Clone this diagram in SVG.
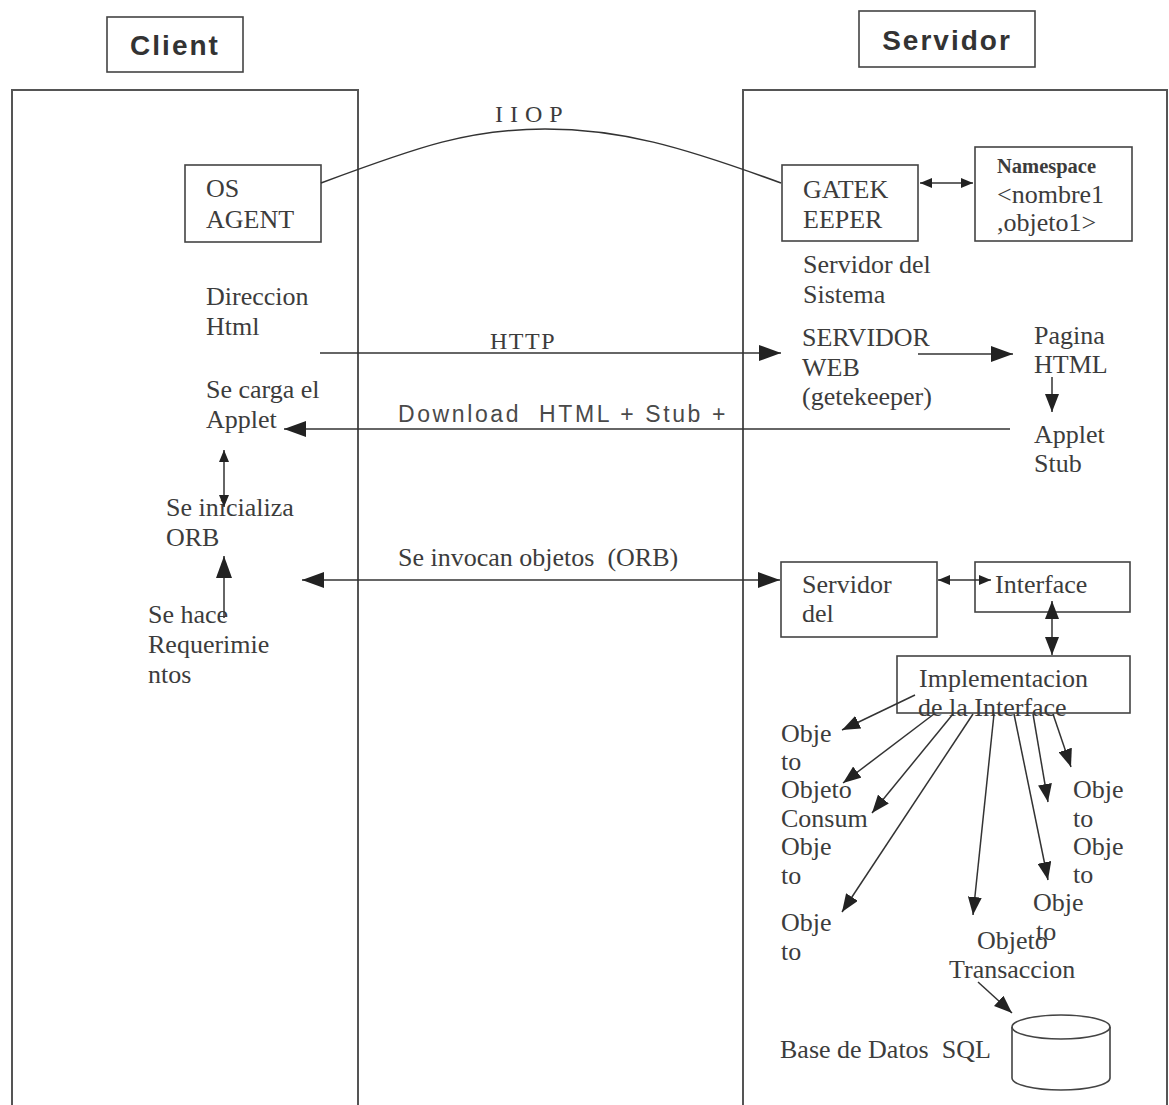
<svg xmlns="http://www.w3.org/2000/svg" width="1169" height="1105" viewBox="0 0 1169 1105">
  <style>
    text { white-space: pre; }
    .frame { fill: none; stroke: #555; stroke-width: 2; }
    .box { fill: none; stroke: #444; stroke-width: 1.6; }
    .ln { fill: none; stroke: #333; stroke-width: 1.5; }
    .t { font-family: "Liberation Serif", "Times New Roman", serif; font-size: 26px; fill: #3c3c3c; }
    .ts { font-family: "Liberation Sans", Arial, sans-serif; font-size: 23px; fill: #4a4a4a; letter-spacing: 2.6px; }
    .title { font-family: "Liberation Sans", Arial, sans-serif; font-size: 28px; font-weight: bold; fill: #333; }
  </style>
  <defs>
    <marker id="ah" markerUnits="userSpaceOnUse" markerWidth="22" markerHeight="16" refX="22" refY="8" orient="auto-start-reverse">
      <path d="M0,0 L22,8 L0,16 z" fill="#222"/>
    </marker>
    <marker id="am" markerUnits="userSpaceOnUse" markerWidth="18" markerHeight="14" refX="18" refY="7" orient="auto-start-reverse">
      <path d="M0,0 L18,7 L0,14 z" fill="#222"/>
    </marker>
    <marker id="as" markerUnits="userSpaceOnUse" markerWidth="12" markerHeight="10" refX="12" refY="5" orient="auto-start-reverse">
      <path d="M0,0 L12,5 L0,10 z" fill="#222"/>
    </marker>
  </defs>

  <rect width="1169" height="1105" fill="#fff"/>

  <!-- Column headings and panels -->
  <g id="client">
    <rect class="box" x="107" y="17" width="136" height="55"/>
    <text class="title" x="175" y="55" text-anchor="middle" style="letter-spacing:2px">Client</text>
    <rect class="frame" x="12" y="90" width="346" height="1040"/>
  </g>
  <g id="servidor">
    <rect class="box" x="859" y="11" width="176" height="56"/>
    <text class="title" x="947" y="50" text-anchor="middle" style="letter-spacing:2px">Servidor</text>
    <rect class="frame" x="743" y="90" width="424" height="1040"/>
  </g>

  <!-- Client side -->
  <g id="os-agent">
    <rect class="box" x="185" y="165" width="136" height="77"/>
    <text class="t" x="206" y="197">OS</text>
    <text class="t" x="206" y="228">AGENT</text>
  </g>
  <g id="direccion-html">
    <text class="t" x="206" y="305">Direccion</text>
    <text class="t" x="206" y="335">Html</text>
  </g>
  <g id="carga-applet">
    <text class="t" x="206" y="398">Se carga el</text>
    <text class="t" x="206" y="428">Applet</text>
  </g>
  <g id="inicializa-orb">
    <text class="t" x="166" y="516">Se inicializa</text>
    <text class="t" x="166" y="546">ORB</text>
  </g>
  <g id="requerimientos">
    <text class="t" x="148" y="623">Se hace</text>
    <text class="t" x="148" y="653">Requerimie</text>
    <text class="t" x="148" y="683">ntos</text>
  </g>

  <!-- Server side -->
  <g id="gatekeeper">
    <rect class="box" x="782" y="165" width="136" height="76"/>
    <text class="t" x="803" y="198">GATEK</text>
    <text class="t" x="803" y="228">EEPER</text>
  </g>
  <g id="namespace">
    <rect class="box" x="975" y="147" width="157" height="94"/>
    <text class="t" x="997" y="173" style="font-size:20.5px;font-weight:bold">Namespace</text>
    <text class="t" x="997" y="203">&lt;nombre1</text>
    <text class="t" x="997" y="231">,objeto1&gt;</text>
  </g>
  <g id="servidor-sistema">
    <text class="t" x="803" y="273">Servidor del</text>
    <text class="t" x="803" y="303">Sistema</text>
  </g>
  <g id="servidor-web">
    <text class="t" x="802" y="346">SERVIDOR</text>
    <text class="t" x="802" y="376">WEB</text>
    <text class="t" x="802" y="405">(getekeeper)</text>
  </g>
  <g id="pagina-html">
    <text class="t" x="1034" y="344">Pagina</text>
    <text class="t" x="1034" y="373">HTML</text>
  </g>
  <g id="applet-stub">
    <text class="t" x="1034" y="443">Applet</text>
    <text class="t" x="1034" y="472">Stub</text>
  </g>
  <g id="servidor-del">
    <rect class="box" x="781" y="562" width="156" height="75"/>
    <text class="t" x="802" y="593">Servidor</text>
    <text class="t" x="802" y="622">del</text>
  </g>
  <g id="interface">
    <rect class="box" x="975" y="562" width="155" height="50"/>
    <text class="t" x="995" y="593">Interface</text>
  </g>
  <g id="implementacion">
    <rect class="box" x="897" y="656" width="233" height="57"/>
    <text class="t" x="919" y="687">Implementacion</text>
    <text class="t" x="918" y="716">de la Interface</text>
  </g>
  <g id="objetos">
    <text class="t" x="781" y="742">Obje</text>
    <text class="t" x="781" y="770">to</text>
    <text class="t" x="781" y="798">Objeto</text>
    <text class="t" x="781" y="827">Consum</text>
    <text class="t" x="781" y="855">Obje</text>
    <text class="t" x="781" y="884">to</text>
    <text class="t" x="781" y="931">Obje</text>
    <text class="t" x="781" y="960">to</text>
    <text class="t" x="1073" y="798">Obje</text>
    <text class="t" x="1073" y="827">to</text>
    <text class="t" x="1073" y="855">Obje</text>
    <text class="t" x="1073" y="883">to</text>
    <text class="t" x="1033" y="911">Obje</text>
    <text class="t" x="1036" y="940">to</text>
    <text class="t" x="977" y="949">Objeto</text>
    <text class="t" x="949" y="978">Transaccion</text>
  </g>
  <g id="base-datos">
    <path class="box" d="M1012,1027 L1012,1078 A49,12 0 0 0 1110,1078 L1110,1027"/>
    <ellipse class="box" cx="1061" cy="1027" rx="49" ry="12"/>
    <text class="t" x="780" y="1058">Base de Datos  SQL</text>
  </g>

  <!-- Connectors -->
  <g id="connectors">
    <path class="ln" d="M321,183 C420,146 470,129 545,129 C620,129 680,146 781,183"/>
    <text class="t" x="495" y="122" style="font-size:24px;letter-spacing:7px">IIOP</text>

    <line class="ln" x1="920" y1="183" x2="973" y2="183" marker-start="url(#as)" marker-end="url(#as)"/>

    <line class="ln" x1="320" y1="353" x2="781" y2="353" marker-end="url(#ah)"/>
    <text class="t" x="490" y="349" style="font-size:24px;letter-spacing:1.5px">HTTP</text>

    <line class="ln" x1="918" y1="354" x2="1013" y2="354" marker-end="url(#ah)"/>
    <line class="ln" x1="1052" y1="377" x2="1052" y2="412" marker-end="url(#am)"/>

    <line class="ln" x1="1010" y1="429" x2="284" y2="429" marker-end="url(#ah)"/>
    <text class="ts" x="398" y="422">Download  HTML + Stub +</text>

    <line class="ln" x1="224" y1="450" x2="224" y2="507" marker-start="url(#as)" marker-end="url(#as)"/>
    <line class="ln" x1="224" y1="618" x2="224" y2="556" marker-end="url(#ah)"/>

    <line class="ln" x1="302" y1="580" x2="780" y2="580" marker-start="url(#ah)" marker-end="url(#ah)"/>
    <text class="t" x="398" y="566">Se invocan objetos  (ORB)</text>

    <line class="ln" x1="938" y1="580" x2="991" y2="580" marker-start="url(#as)" marker-end="url(#as)"/>
    <line class="ln" x1="1052" y1="601" x2="1052" y2="655" marker-start="url(#am)" marker-end="url(#am)"/>

    <line class="ln" x1="915" y1="695" x2="842" y2="730" marker-end="url(#am)"/>
    <line class="ln" x1="934" y1="714" x2="843" y2="783" marker-end="url(#am)"/>
    <line class="ln" x1="953" y1="714" x2="872" y2="813" marker-end="url(#am)"/>
    <line class="ln" x1="973" y1="714" x2="842" y2="912" marker-end="url(#am)"/>
    <line class="ln" x1="994" y1="714" x2="973" y2="915" marker-end="url(#am)"/>
    <line class="ln" x1="1014" y1="714" x2="1048" y2="880" marker-end="url(#am)"/>
    <line class="ln" x1="1033" y1="714" x2="1048" y2="802" marker-end="url(#am)"/>
    <line class="ln" x1="1053" y1="714" x2="1071" y2="767" marker-end="url(#am)"/>

    <line class="ln" x1="978" y1="982" x2="1012" y2="1013" marker-end="url(#am)"/>
  </g>
</svg>
